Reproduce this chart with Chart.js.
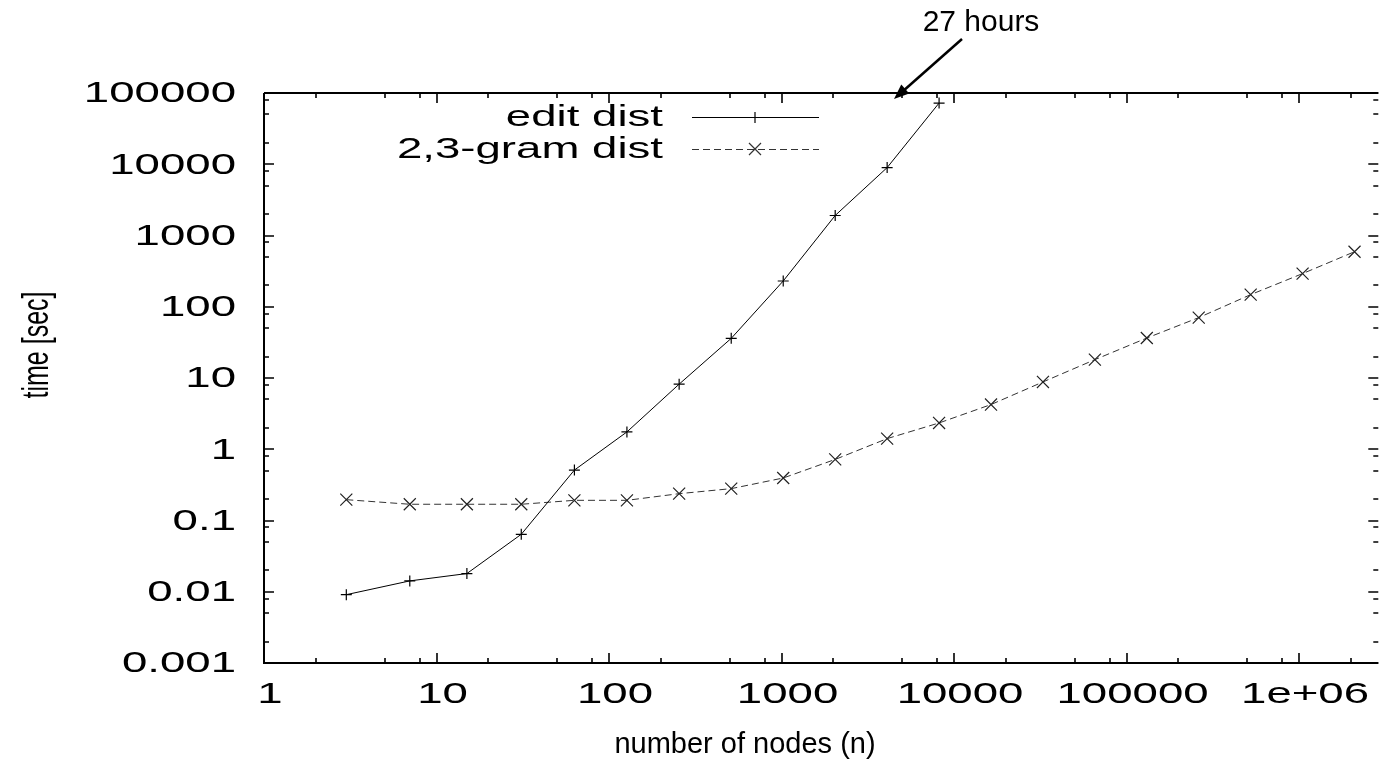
<!DOCTYPE html>
<html>
<head>
<meta charset="utf-8">
<script src="https://cdn.jsdelivr.net/npm/chart.js@4"></script>
<style>
  html, body { margin: 0; padding: 0; background: #fff; }
  canvas { display: block; }
</style>
</head>
<body>
<canvas id="myChart" width="1388" height="760"></canvas>
<script>
const editNodes = [3, 7, 15, 31, 63, 127, 255, 511, 1023, 2047, 4095, 8191];
const editTimes = [0.0091, 0.0142, 0.018, 0.064, 0.51, 1.75, 8.2, 36, 230, 1910, 8980, 72300];

const gramNodes = [3, 7, 15, 31, 63, 127, 255, 511, 1023, 2047, 4095, 8191, 16383, 32767,
  65535, 131071, 262143, 524287, 1048575, 2097151];
const gramTimes = [0.196, 0.169, 0.169, 0.169, 0.192, 0.192, 0.238, 0.28, 0.395, 0.72, 1.41,
  2.34, 4.24, 8.8, 18.1, 36.4, 70.4, 148, 292, 592];

const xTicks = [1, 10, 100, 1000, 10000, 100000, 1000000];
const xTickLabels = ["1", "10", "100", "1000", "10000", "100000", "1e+06"];
const yTicks = [0.001, 0.01, 0.1, 1, 10, 100, 1000, 10000, 100000];
const yTickLabels = ["0.001", "0.01", "0.1", "1", "10", "100", "1000", "10000", "100000"];
const minorSteps = [2, 5, 8];

const legendNames = ["edit dist", "2,3-gram dist"];

const FONT = '"Liberation Sans", Arial, sans-serif';
const STRETCH = 1.52;

const toPoints = (xs, ys) => xs.map((x, i) => ({ x: x, y: ys[i] }));

const wideText = (ctx, text, x, y, align, sx) => {
  ctx.save();
  ctx.translate(x, y);
  ctx.scale(sx, 1);
  ctx.textAlign = align;
  ctx.fillText(text, 0, 0);
  ctx.restore();
};

// frame with inward ticks on all four sides
const framePlugin = {
  id: "frame",
  afterDatasetsDraw(chart) {
    const { ctx, chartArea: a, scales } = chart;
    const xs = scales.x;
    const ys = scales.y;
    ctx.save();
    ctx.strokeStyle = "#000";
    ctx.lineWidth = 2;
    ctx.beginPath();
    ctx.moveTo(a.left, a.top);
    ctx.lineTo(a.right, a.top);
    ctx.moveTo(a.left, a.top);
    ctx.lineTo(a.left, a.bottom);
    ctx.lineTo(a.right, a.bottom);
    ctx.stroke();

    ctx.lineWidth = 1.6;
    ctx.beginPath();
    const xTick = (v, len) => {
      const px = Math.round(xs.getPixelForValue(v));
      if (px < a.left || px > a.right) return;
      ctx.moveTo(px, a.bottom);
      ctx.lineTo(px, a.bottom - len);
      ctx.moveTo(px, a.top);
      ctx.lineTo(px, a.top + len);
    };
    const yTick = (v, len) => {
      const py = Math.round(ys.getPixelForValue(v));
      if (py < a.top - 1 || py > a.bottom + 1) return;
      ctx.moveTo(a.left, py);
      ctx.lineTo(a.left + len, py);
      ctx.moveTo(a.right, py);
      ctx.lineTo(a.right - len, py);
    };
    xTicks.forEach((t) => {
      xTick(t, 10);
      minorSteps.forEach((m) => xTick(t * m, 5));
    });
    yTicks.forEach((t) => {
      yTick(t, 10);
      if (t < 100000) minorSteps.forEach((m) => yTick(t * m, 5));
    });
    ctx.stroke();
    ctx.restore();
  },
  afterDraw(chart) {
    const { ctx, chartArea: a, scales } = chart;
    ctx.save();
    ctx.fillStyle = "#000";
    ctx.font = "30px " + FONT;
    ctx.textBaseline = "middle";

    xTicks.forEach((t, i) => {
      wideText(ctx, xTickLabels[i], scales.x.getPixelForValue(t) + 6, 695, "center", STRETCH);
    });
    yTicks.forEach((t, i) => {
      wideText(ctx, yTickLabels[i], 236, scales.y.getPixelForValue(t) + 1, "right", STRETCH);
    });

    // legend
    const rows = [117, 149];
    legendNames.forEach((name, i) => {
      const y = rows[i];
      wideText(ctx, name, 663, y + 1, "right", STRETCH);
      ctx.strokeStyle = i === 0 ? "#000" : "#333";
      ctx.lineWidth = 1;
      ctx.setLineDash(i === 0 ? [] : [7, 4]);
      ctx.beginPath();
      ctx.moveTo(692, y + 0.5);
      ctx.lineTo(819, y + 0.5);
      ctx.stroke();
      ctx.setLineDash([]);
      ctx.lineWidth = 1.2;
      ctx.beginPath();
      if (i === 0) {
        ctx.moveTo(755 - 5.5, y + 0.5);
        ctx.lineTo(755 + 5.5, y + 0.5);
        ctx.moveTo(755, y - 5);
        ctx.lineTo(755, y + 6);
      } else {
        ctx.moveTo(749, y - 6);
        ctx.lineTo(761, y + 6);
        ctx.moveTo(749, y + 6);
        ctx.lineTo(761, y - 6);
      }
      ctx.stroke();
    });

    // axis titles
    ctx.save();
    ctx.translate(38, 345);
    ctx.rotate(-Math.PI / 2);
    ctx.scale(1, 1.45);
    ctx.font = "25px " + FONT;
    ctx.textAlign = "center";
    ctx.fillText("time [sec]", 0, 0);
    ctx.restore();

    ctx.font = "29px " + FONT;
    ctx.textAlign = "center";
    ctx.fillText("number of nodes (n)", 745, 745);

    // annotation
    ctx.font = "30px " + FONT;
    ctx.fillText("27 hours", 981, 23);
    ctx.strokeStyle = "#000";
    ctx.lineWidth = 2.5;
    ctx.beginPath();
    ctx.moveTo(962, 39);
    ctx.lineTo(902, 92);
    ctx.stroke();
    const ang = Math.atan2(99 - 39, 894 - 962);
    ctx.beginPath();
    ctx.moveTo(894, 99);
    ctx.lineTo(894 - 15 * Math.cos(ang) + 6 * Math.sin(ang), 99 - 15 * Math.sin(ang) - 6 * Math.cos(ang));
    ctx.lineTo(894 - 15 * Math.cos(ang) - 6 * Math.sin(ang), 99 - 15 * Math.sin(ang) + 6 * Math.cos(ang));
    ctx.closePath();
    ctx.fillStyle = "#000";
    ctx.fill();
    ctx.restore();
  },
};

const ctx = document.getElementById("myChart");
new Chart(ctx, {
  type: "scatter",
  data: {
    datasets: [
      {
        label: legendNames[0],
        data: toPoints(editNodes, editTimes),
        showLine: true,
        borderColor: "#000",
        borderWidth: 1,
        pointStyle: "cross",
        pointRadius: 5.5,
        pointBorderWidth: 1.2,
        pointBorderColor: "#000",
      },
      {
        label: legendNames[1],
        data: toPoints(gramNodes, gramTimes),
        showLine: true,
        borderColor: "#333",
        borderWidth: 1,
        borderDash: [7, 4],
        pointStyle: "crossRot",
        pointRadius: 8.5,
        pointBorderWidth: 1.2,
        pointBorderColor: "#222",
      },
    ],
  },
  options: {
    responsive: false,
    animation: false,
    devicePixelRatio: 1,
    layout: { padding: { top: 93, left: 0, right: 0, bottom: 0 } },
    plugins: {
      legend: { display: false },
      tooltip: { enabled: false },
    },
    scales: {
      x: {
        type: "logarithmic",
        min: 1,
        max: 2.88e6,
        bounds: "data",
        grid: { display: false },
        border: { display: false },
        ticks: { display: false },
        afterFit: (s) => { s.height = 97; },
      },
      y: {
        type: "logarithmic",
        min: 0.001,
        max: 100000,
        bounds: "data",
        grid: { display: false },
        border: { display: false },
        ticks: { display: false },
        afterFit: (s) => { s.width = 264; },
      },
    },
  },
  plugins: [framePlugin],
});
</script>
</body>
</html>
